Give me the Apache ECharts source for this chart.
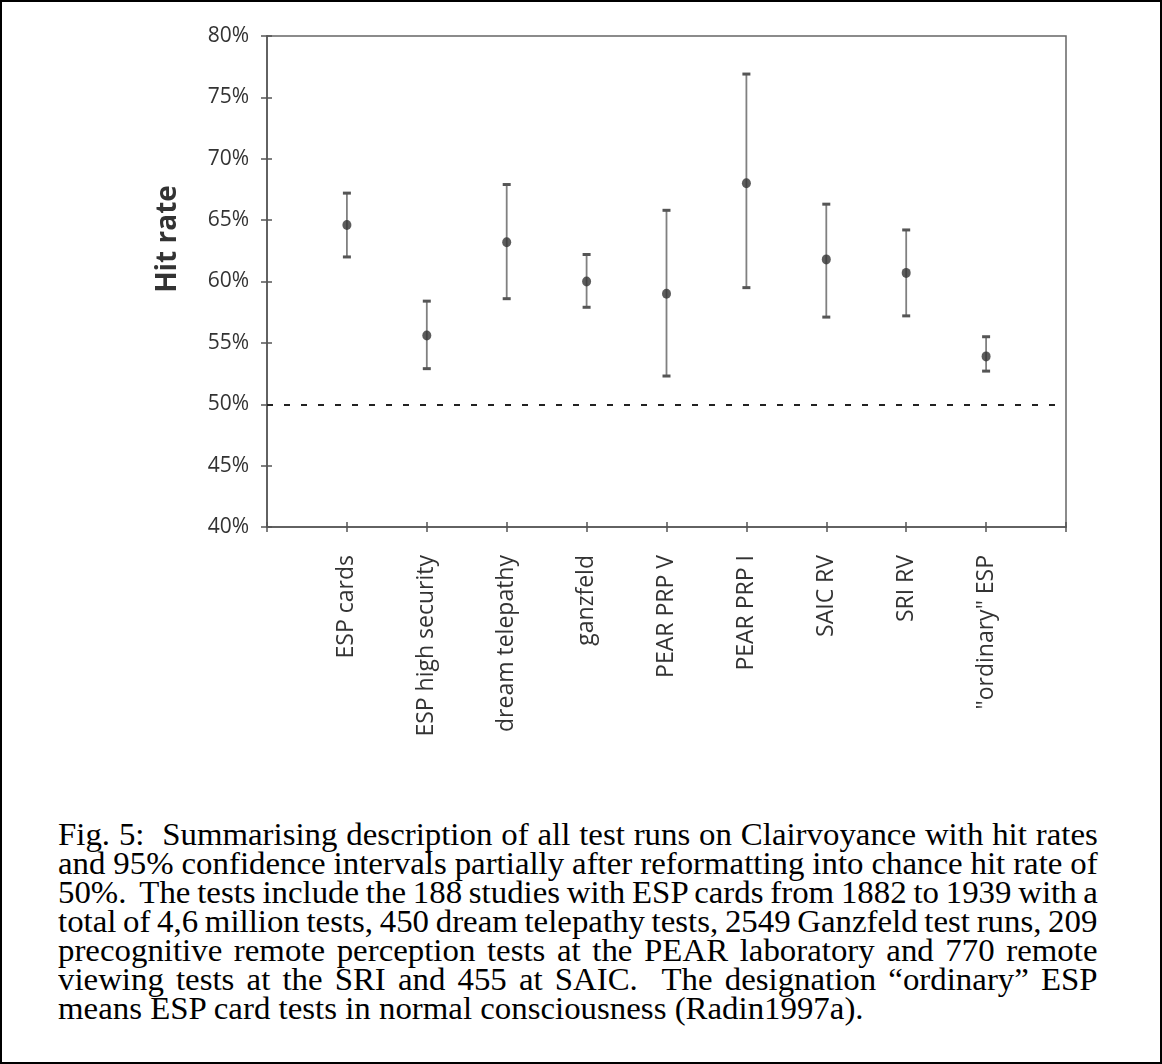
<!DOCTYPE html>
<html>
<head>
<meta charset="utf-8">
<script src="https://cdn.jsdelivr.net/npm/echarts@6/dist/echarts.min.js"></script>
<style>
  html, body { margin: 0; padding: 0; background: #fff; }
  #frame { position: absolute; left: 0; top: 0; width: 1162px; height: 1064px; box-sizing: border-box; border: 2px solid #000; }
  #chart { position: absolute; left: 0; top: 0; width: 1162px; height: 790px; }
  #caption { position: absolute; left: 58px; top: 820px; width: 981px; transform: scaleX(1.06); transform-origin: left top; font-family: "Liberation Serif", "Times New Roman", serif; font-size: 31px; line-height: 29px; color: #000; }
  #caption div { white-space: pre; height: 29px; }
  #caption span { white-space: pre; }
</style>
</head>
<body>
<div id="frame"></div>
<div id="chart"></div>
<div id="caption"></div>
<script>
const categories = ['ESP cards', 'ESP high security', 'dream telepathy', 'ganzfeld', 'PEAR PRP V', 'PEAR PRP I', 'SAIC RV', 'SRI RV', '"ordinary" ESP'];
const hitRate = [64.6, 55.6, 63.2, 60.0, 59.0, 68.0, 61.8, 60.7, 53.9];
const lower   = [62.0, 52.9, 58.6, 57.9, 52.3, 59.5, 57.1, 57.2, 52.7];
const upper   = [67.2, 58.4, 67.9, 62.2, 65.8, 76.9, 66.3, 64.2, 55.5];
const yTicks  = [40, 45, 50, 55, 60, 65, 70, 75, 80];
const chanceLevel = 50;
const captionLines = [
  'Fig. 5:  Summarising description of all test runs on Clairvoyance with hit rates',
  'and 95% confidence intervals partially after reformatting into chance hit rate of',
  '50%.  The tests include the 188 studies with ESP cards from 1882 to 1939 with a',
  'total of 4,6 million tests, 450 dream telepathy tests, 2549 Ganzfeld test runs, 209',
  'precognitive remote perception tests at the PEAR laboratory and 770 remote',
  'viewing tests at the SRI and 455 at SAIC.  The designation \u201cordinary\u201d ESP',
  'means ESP card tests in normal consciousness (Radin1997a).'
];

// caption: justified lines (last line left-aligned)
const cap = document.getElementById('caption');
const capWidth = 981;
captionLines.forEach((line, i) => {
  const d = document.createElement('div');
  const s = document.createElement('span');
  s.textContent = line;
  d.appendChild(s);
  cap.appendChild(d);
  if (i < captionLines.length - 1) {
    const w = s.offsetWidth;
    const n = (line.match(/ /g) || []).length;
    if (n > 0) s.style.wordSpacing = ((capWidth - w) / n) + 'px';
  }
});

const pos = categories.map((c, i) => i + 1);
const pointData = pos.map((p, i) => [p, hitRate[i]]);
const barData = pos.map((p, i) => [p, lower[i], upper[i]]);

const chart = echarts.init(document.getElementById('chart'));
const labelFont = '"Open Sans", "Noto Sans", sans-serif';
const axisCol = '#555';
chart.setOption({
  animation: false,
  grid: { left: 267, top: 36, width: 799, height: 491, show: true, borderColor: '#666', borderWidth: 1.5, backgroundColor: 'transparent' },
  xAxis: [{
    type: 'value', min: 0, max: categories.length + 1, interval: 1,
    splitLine: { show: false },
    axisLine: { show: true, lineStyle: { color: axisCol, width: 1.5 } },
    axisTick: { show: true, length: 5, lineStyle: { color: axisCol, width: 1.5 } },
    axisLabel: {
      rotate: 90, margin: 28, fontSize: 23, color: '#333', fontFamily: labelFont,
      formatter: v => (v >= 1 && v <= categories.length) ? categories[v - 1] : ''
    }
  }, {
    type: 'value', position: 'bottom', min: 0, max: categories.length + 1, interval: 1,
    splitLine: { show: false }, axisLine: { show: false }, axisLabel: { show: false },
    axisTick: { show: true, inside: true, length: 5, lineStyle: { color: axisCol, width: 1.5 } }
  }],
  yAxis: [{
    type: 'value', min: yTicks[0], max: yTicks[yTicks.length - 1], interval: 5,
    splitLine: { show: false },
    axisLine: { show: true, lineStyle: { color: axisCol, width: 1.5 } },
    axisTick: { show: true, length: 6, lineStyle: { color: axisCol, width: 1.5 } },
    axisLabel: { margin: 18, fontSize: 21, color: '#333', fontFamily: labelFont, formatter: '{value}%' }
  }, {
    type: 'value', position: 'left', min: yTicks[0], max: yTicks[yTicks.length - 1], interval: 5,
    splitLine: { show: false },
    axisLine: { show: false },
    axisTick: { show: true, inside: true, length: 5, lineStyle: { color: axisCol, width: 1.5 } },
    axisLabel: { show: false }
  }],
  graphic: [{
    type: 'text', x: 168, y: 239, rotation: Math.PI / 2,
    style: { text: 'Hit rate', font: 'bold 28px "Open Sans", sans-serif', fill: '#333', align: 'center', verticalAlign: 'middle' }
  }],
  series: [{
    type: 'custom',
    data: barData,
    renderItem: (params, api) => {
      const x = api.value(0);
      const lo = api.coord([x, api.value(1)]);
      const hi = api.coord([x, api.value(2)]);
      const cw = 4;
      const st = { stroke: '#808080', lineWidth: 1.8 };
      const capSt = { stroke: '#555', lineWidth: 3 };
      return {
        type: 'group',
        children: [
          { type: 'line', shape: { x1: lo[0], y1: lo[1], x2: hi[0], y2: hi[1] }, style: st },
          { type: 'line', shape: { x1: hi[0] - cw, y1: hi[1], x2: hi[0] + cw, y2: hi[1] }, style: capSt },
          { type: 'line', shape: { x1: lo[0] - cw, y1: lo[1], x2: lo[0] + cw, y2: lo[1] }, style: capSt }
        ]
      };
    },
    z: 2
  }, {
    type: 'scatter',
    data: pointData,
    symbol: 'circle',
    symbolSize: [9, 10],
    itemStyle: { color: '#333' },
    z: 3,
    markLine: {
      silent: true, symbol: 'none', label: { show: false },
      lineStyle: { type: [6, 11], color: '#222', width: 2 },
      data: [{ yAxis: chanceLevel }]
    }
  }]
});
</script>
</body>
</html>
